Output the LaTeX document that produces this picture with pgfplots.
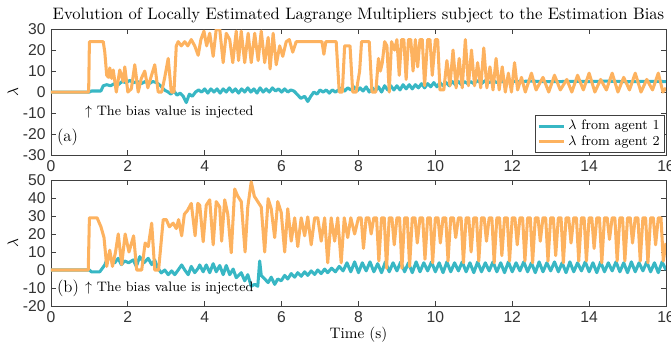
\documentclass[border=0pt]{standalone}
\usepackage{fontspec}
\usepackage{pgfplots}
\pgfplotsset{compat=1.18}
\newfontfamily\tickfont{Liberation Sans}
\definecolor{cteal}{RGB}{56,183,196}
\definecolor{corange}{RGB}{253,178,95}
\pgfplotsset{
  myaxis/.style={
    scale only axis, width=404.2pt, height=82.8pt,
    xmin=0, xmax=16, xtick={0,2,...,16},
    axis line style={black!75, line width=0.6pt},
    every tick/.style={black!75, line width=0.5pt},
    major tick length=3.5pt,
    tick align=inside,
    ticklabel style={font=\tickfont\fontsize{10.3}{12}\selectfont, text=black!80},
    /pgf/number format/assume math mode=true,
    every axis y label/.style={at={(axis description cs:0,0.5)}, xshift=-25pt, rotate=90, anchor=center},
    ylabel={$\lambda$},
    clip=true,
  },
  s1/.style={cteal, line width=2pt, line join=round},
  s2/.style={corange, line width=2pt, line join=round},
}
\begin{document}
\begin{tikzpicture}
\begin{axis}[myaxis, at={(0,0)}, anchor=south west,
  ymin=-30, ymax=30, ytick={-30,-20,...,30},
  title={Evolution of Locally Estimated Lagrange Multipliers subject to the Estimation Bias},
  every axis title/.style={at={(0.5,1)}, anchor=south, yshift=0.6pt, font=\fontsize{10.9}{13}\selectfont},
  legend cell align=left,
  legend style={at={(1,0)}, anchor=south east, xshift=-0.7pt, yshift=1.3pt, draw=black!75, line width=0.6pt, inner sep=1.2pt, row sep=-1.5pt, font=\small},
  legend image code/.code={\draw[#1] (0cm,0cm) -- (0.58cm,0cm);},
]
\addplot[s1] coordinates {
(0,0) (1.0,0) (1.05,0.5) (1.3,0.5) (1.36,3) (1.45,3.5) (1.55,3) (1.65,4) (1.75,3.5) (1.85,5) (1.95,4.5) (2.05,5.5) (2.15,4.5) (2.25,5) (2.35,4) (2.45,5) (2.55,4) (2.65,5) (2.75,4.5) (2.85,3) (2.95,1) (3.05,0) (3.12,-1) (3.2,0.5) (3.28,-1.5) (3.36,-0.5) (3.44,-2) (3.52,-5) (3.6,-1) (3.68,-2) (3.76,0) (3.84,1) (3.92,0) (4.0,1.5)
(4.08,-0.5) (4.16,1.5) (4.24,0) (4.32,1.5) (4.4,-0.5) (4.48,1.5) (4.56,0) (4.64,2) (4.72,0) (4.8,1.5) (4.88,-0.5) (4.96,1.5) (5.04,0) (5.12,2) (5.2,0) (5.28,1.5) (5.36,-0.5) (5.44,2) (5.52,0) (5.6,1.5) (5.68,0) (5.76,2) (5.84,0.5) (5.92,1.5) (6.0,0) (6.08,1.5) (6.16,0) (6.24,1) (6.32,0.5) (6.4,-1) (6.5,-3) (6.6,-2) (6.68,-4.5) (6.76,-2) (6.84,0) (6.92,-1) (7.0,1) (7.08,0) (7.16,1) (7.24,-0.5) (7.32,1) (7.4,0) (7.48,1) (7.56,2) (7.64,0.5) (7.72,2) (7.8,1) (7.88,2.5) (7.96,0.5) (8.04,2) (8.12,0.5)
(8.2,2.5) (8.28,0) (8.36,2) (8.44,0.5) (8.52,2.5) (8.6,0) (8.68,3) (8.76,1) (8.84,3) (8.92,1) (9.0,3) (9.08,1) (9.16,3.5) (9.24,1.5) (9.32,3.5) (9.4,1.5) (9.48,3.5) (9.56,2) (9.64,4) (9.72,2) (9.8,4) (9.88,2.5) (9.96,4.5) (10.04,2.5) (10.12,4.5) (10.2,3) (10.28,4.5) (10.36,3) (10.44,5) (10.52,3.5) (10.6,5) (10.68,3.5) (10.76,5) (10.84,4) (10.92,5) (11.0,4) (11.1,5.5) (11.2,4) (11.3,5.5) (11.4,4.5) (11.5,5.5) (11.6,4.5) (11.7,5.5) (11.8,4.5) (11.9,5.5) (12.0,5) (12.5,5.2) (13,4.9) (13.5,5.1) (14,5) (14.5,5.2) (15,4.9) (15.5,5.1) (16,5)
};
\addlegendentry{$\lambda$ from agent 1}
\addplot[s2] coordinates {
(0,0) (0.98,0) (1.0,24) (1.36,24) (1.4,19) (1.45,8) (1.5,7) (1.53,11.5) (1.58,6.5) (1.62,10.5) (1.7,0) (1.79,10.5) (1.88,5) (1.92,12) (2.0,0) (2.09,1.5) (2.18,13) (2.27,0) (2.35,6.5) (2.44,10) (2.52,2) (2.6,7) (2.7,13) (2.79,0) (2.88,0) (2.96,7) (3.05,16) (3.13,0) (3.2,0) (3.26,22) (3.31,24) (3.39,22) (3.48,24) (3.56,22) (3.65,25) (3.74,22) (3.83,17.5) (3.9,25) (3.98,29) (4.05,22) (4.13,28) (4.22,17) (4.3,30) (4.39,30) (4.48,14) (4.56,28) (4.65,25) (4.73,14) (4.82,29) (4.88,15) (4.95,29) (5.04,14) (5.13,28) (5.21,14) (5.3,28) (5.39,15) (5.47,29) (5.56,14) (5.65,26) (5.7,11) (5.78,28) (5.86,13) (5.95,22) (6.03,17) (6.12,24) (6.2,25) (6.29,19) (6.38,24) (6.47,24) (7.05,24) (7.1,18) (7.15,24) (7.42,24) (7.5,0) (7.58,0) (7.64,22) (7.78,22) (7.85,0) (7.94,0)
(8.03,10) (8.08,24) (8.28,24) (8.35,0) (8.45,0) (8.52,16) (8.57,10) (8.62,14) (8.68,24) (8.74,22) (8.8,0) (8.86,24) (8.94,20) (9.0,25) (9.06,8) (9.12,25) (9.18,25) (9.24,6) (9.3,25) (9.36,25) (9.42,10) (9.48,25) (9.54,12) (9.6,25) (9.66,25) (9.72,3) (9.8,25) (9.86,25) (9.92,8) (10.0,25) (10.06,25) (10.12,1) (10.22,1) (10.3,15) (10.38,3) (10.46,20) (10.54,2) (10.62,16) (10.7,2) (10.78,25) (10.86,3) (10.94,20) (11.02,3) (11.1,14) (11.18,2) (11.26,21) (11.34,2) (11.42,12) (11.5,1) (11.58,16) (11.66,1) (11.74,12) (11.82,0) (11.9,9) (11.98,0) (12.06,14) (12.14,1) (12.24,7) (12.34,0)
(12.5,9) (12.62,1) (12.8,7) (12.95,0) (13.1,8) (13.25,1) (13.42,6) (13.55,0) (13.7,8) (13.85,1) (14.0,9) (14.15,0) (14.3,6) (14.45,1) (14.6,9) (14.75,0) (14.9,7) (15.05,1) (15.2,9) (15.35,0) (15.5,6) (15.65,1) (15.8,9) (15.92,0) (16,2)
};
\addlegendentry{$\lambda$ from agent 2}
\node[anchor=west, inner sep=0pt, font=\small] at (axis cs:0.88,-9.5) {$\uparrow$ The bias value is injected};
\node[anchor=west, inner sep=0pt, font=\fontsize{11}{13}\selectfont] at (axis cs:0.15,-21.4) {(a)};
\end{axis}
\begin{axis}[myaxis, at={(0,-16.4pt)}, anchor=north west,
  ymin=-20, ymax=50, ytick={-20,-10,...,50},
  xlabel={Time (s)},
  every axis x label/.style={at={(axis description cs:0.5,0)}, anchor=center, yshift=-18.8pt},
]
\addplot[s1] coordinates {
(0,0) (1.0,0) (1.05,-1) (1.27,-1) (1.4,2.8) (1.49,8) (1.58,5.5) (1.66,4) (1.75,6.5) (1.83,3) (1.92,5) (2.02,4) (2.14,5.6) (2.22,2) (2.31,7.4) (2.42,4) (2.53,6.5) (2.62,3) (2.7,5.5) (2.78,1) (2.87,-1.6) (2.96,0) (3.05,-2.6) (3.14,-0.5) (3.22,-2.6) (3.31,0) (3.4,2.8) (3.48,0) (3.57,-2.6) (3.65,2) (3.74,-1.5) (3.83,1) (3.87,2.8) (3.96,-1) (4.04,2.8) (4.13,-1.5) (4.22,3.5) (4.3,-1) (4.39,2.5) (4.48,-2.6) (4.56,2.5) (4.65,-2.6) (4.74,0.5) (4.82,-4.3) (4.95,-1.5) (5.04,-6) (5.12,-2.6) (5.21,-9) (5.3,-8) (5.38,-9) (5.43,5) (5.47,-3) (5.56,-5) (5.65,-7) (5.73,-4) (5.82,-8) (5.9,-5) (5.99,-6) (6.08,-3) (6.16,-5) (6.25,-2) (6.34,-4) (6.42,-1.5) (6.51,-3.5) (6.6,-1) (6.68,-3) (6.77,-0.5) (6.86,-2.5) (6.94,0) (7.03,-2) (7.12,0.5) (7.2,-1.5) (7.3,1) (7.4,-1) (7.5,2) (7.6,-0.5)
(7.7,4) (7.8,-1) (7.9,4.5) (8.0,-1.5) (8.1,4) (8.2,-0.5) (8.3,4.5) (8.4,-1) (8.5,3.5) (8.6,-1.5) (8.7,4.5) (8.8,-1) (8.9,4) (9.0,-0.5) (9.1,4.5) (9.2,-1) (9.3,4) (9.4,-1.5) (9.5,4.5) (9.6,-1) (9.7,4) (9.8,-0.5) (9.9,4.5) (10.0,-1) (10.1,4) (10.2,-1.5) (10.3,4.5) (10.4,-1) (10.5,4) (10.6,-0.5) (10.7,4.5) (10.8,-1) (10.9,4) (11.0,-1.5) (11.1,4.5) (11.2,-1) (11.3,4) (11.4,-0.5) (11.5,4.5) (11.6,-1) (11.7,4) (11.8,-1.5) (11.9,4.5) (12.0,-1) (12.1,4) (12.2,-0.5) (12.3,4.5) (12.4,-1) (12.5,4) (12.6,-1.5) (12.7,4.5) (12.8,-1) (12.9,4) (13.0,-0.5) (13.1,4.5) (13.2,-1) (13.3,4) (13.4,-1.5) (13.5,4.5) (13.6,-1) (13.7,4) (13.8,-0.5) (13.9,4.5) (14.0,-1) (14.1,4) (14.2,-1.5) (14.3,4.5) (14.4,-1) (14.5,4) (14.6,-0.5) (14.7,4.5) (14.8,-1) (14.9,4) (15.0,-1.5) (15.1,4.5) (15.2,-1) (15.3,4) (15.4,-0.5) (15.5,4.5) (15.6,-1) (15.7,4) (15.8,-1.5) (15.9,4.5) (16.0,0)
};
\addplot[s2] coordinates {
(0,0) (0.97,0) (1.0,29) (1.2,29) (1.3,24) (1.38,18) (1.45,2) (1.53,11) (1.6,2) (1.68,10) (1.75,20) (1.84,3) (1.93,20) (2.03,10) (2.15,19) (2.23,0) (2.36,0) (2.45,15) (2.53,13) (2.62,26) (2.7,0) (2.8,0) (2.92,28) (3.0,28) (3.08,24) (3.18,26) (3.26,23) (3.32,28) (3.4,19) (3.47,31) (3.55,33) (3.65,37) (3.75,19) (3.82,37) (3.87,36) (3.96,15.7) (4.04,36) (4.13,39) (4.22,14) (4.3,38) (4.39,35) (4.44,16) (4.52,39) (4.6,31) (4.69,9.6) (4.78,45) (4.86,41) (4.95,38) (5.05,10) (5.12,35) (5.21,49) (5.29,41) (5.38,38) (5.47,35) (5.56,10) (5.65,39.6) (5.73,34) (5.82,18) (5.9,38) (5.99,32) (6.08,10) (6.16,34) (6.25,16) (6.34,29) (6.42,13) (6.51,29) (6.6,19) (6.68,29.5) (6.77,14) (6.86,29) (6.94,29) (7.03,16) (7.12,29) (7.2,4) (7.29,29) (7.38,16) (7.46,29) (7.55,4) (7.63,29) (7.72,18) (7.8,29) (7.9,20)
(8.0,29) (8.07,29) (8.13,12) (8.2,29) (8.27,29) (8.33,20) (8.4,29) (8.47,29) (8.53,5) (8.6,29) (8.67,29) (8.73,1) (8.8,29) (8.87,29) (8.93,14) (9.0,29) (9.07,29) (9.13,1) (9.2,29) (9.27,29) (9.33,2) (9.4,29) (9.47,29) (9.53,15) (9.6,29) (9.67,29) (9.73,6) (9.8,29) (9.87,29) (9.93,4)
(10.0,29) (10.07,29) (10.13,15) (10.2,29) (10.27,29) (10.33,5) (10.4,29) (10.47,29) (10.53,18) (10.6,29) (10.67,29) (10.73,4) (10.8,29) (10.87,29) (10.93,10) (11.0,29) (11.07,29) (11.13,5) (11.2,29) (11.27,29) (11.33,16) (11.4,29) (11.47,29) (11.53,4) (11.6,29) (11.67,29) (11.73,8) (11.8,29) (11.87,29) (11.93,5)
(12.0,29) (12.07,29) (12.13,14) (12.2,29) (12.27,29) (12.33,5) (12.4,29) (12.47,29) (12.53,4) (12.6,29) (12.67,29) (12.73,16) (12.8,29) (12.87,29) (12.93,5) (13.0,29) (13.07,29) (13.13,8) (13.2,29) (13.27,29) (13.33,4) (13.4,29) (13.47,29) (13.53,15) (13.6,29) (13.67,29) (13.73,5) (13.8,29) (13.87,29) (13.93,5)
(14.0,29) (14.07,29) (14.13,12) (14.2,29) (14.27,29) (14.33,4) (14.4,29) (14.47,29) (14.53,17) (14.6,29) (14.67,29) (14.73,5) (14.8,29) (14.87,29) (14.93,5) (15.0,29) (15.07,29) (15.13,15) (15.2,29) (15.27,29) (15.33,5) (15.4,29) (15.47,29) (15.53,4) (15.6,29) (15.67,29) (15.73,14) (15.8,29) (15.87,29) (15.93,5) (16.0,15)
};
\node[anchor=west, inner sep=0pt, font=\small] at (axis cs:0.88,-10) {$\uparrow$ The bias value is injected};
\node[anchor=west, inner sep=0pt, font=\fontsize{11}{13}\selectfont] at (axis cs:0.15,-10) {(b)};
\end{axis}
\pgfresetboundingbox
\path[use as bounding box] (-33.5pt,-125.5pt) rectangle (407.5pt,101.9pt);
\end{tikzpicture}
\end{document}
